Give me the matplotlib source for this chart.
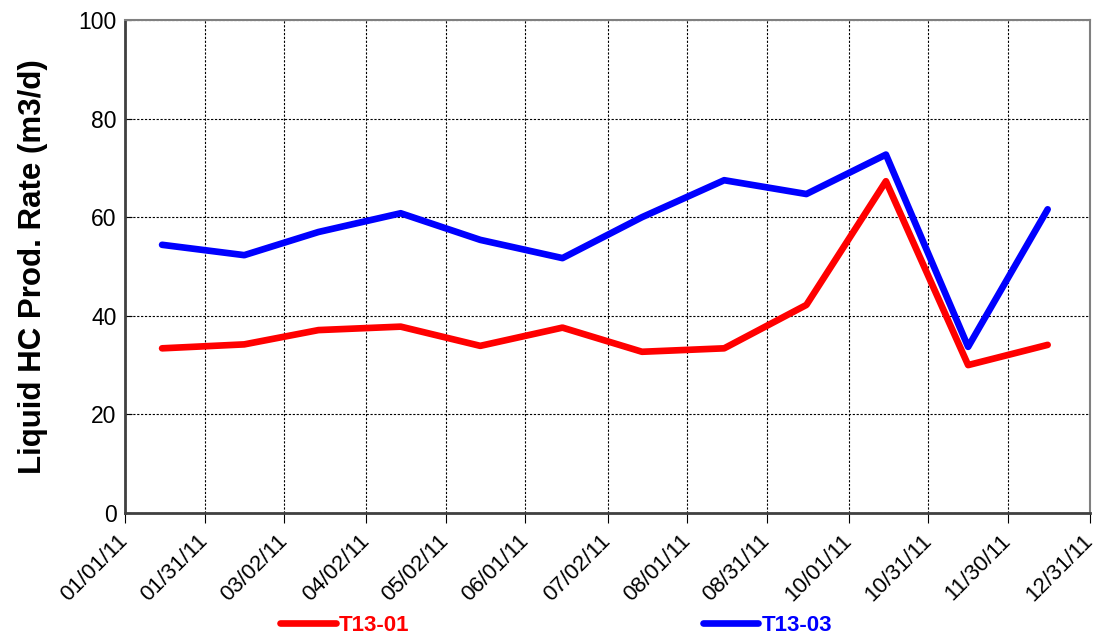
import numpy as np
import matplotlib
matplotlib.use("Agg")
import matplotlib.pyplot as plt
import matplotlib.dates as mdates
from datetime import date

# data
months = [date(2011, m, 15) for m in range(1, 13)]
t13_01 = [33.4, 34.2, 37.1, 37.8, 33.9, 37.6, 32.7, 33.4, 42.2, 67.3, 30.0, 34.1]
t13_03 = [54.4, 52.3, 57.0, 60.8, 55.4, 51.7, 60.0, 67.5, 64.7, 72.7, 33.7, 61.6]
tick_dates = [date(2011, 1, 1), date(2011, 1, 31), date(2011, 3, 2), date(2011, 4, 2),
              date(2011, 5, 2), date(2011, 6, 1), date(2011, 7, 2), date(2011, 8, 1),
              date(2011, 8, 31), date(2011, 10, 1), date(2011, 10, 31), date(2011, 11, 30),
              date(2011, 12, 31)]

plt.rcParams['font.family'] = ['Liberation Sans', 'DejaVu Sans']

fig = plt.figure(figsize=(10.99, 6.37), dpi=100)
ax = fig.add_axes([0.1137, 0.1947, 0.8782, 0.7739])

ax.plot(months, t13_01, color='#ff0000', lw=4.8, solid_capstyle='round', label='T13-01')
ax.plot(months, t13_03, color='#0000ff', lw=4.8, solid_capstyle='round', label='T13-03')

ax.set_xlim(date(2011, 1, 1), date(2011, 12, 31))
ax.set_ylim(0, 100)
ax.set_yticks(np.arange(0, 101, 20))
ax.set_xticks(tick_dates)
ax.xaxis.set_major_formatter(mdates.DateFormatter('%m/%d/%y'))
plt.setp(ax.get_xticklabels(), rotation=45, ha='right', va='center', rotation_mode='anchor')

ax.grid(True, color='black', lw=0.8, linestyle=(0, (2, 1.5)))
ax.set_axisbelow(True)

ax.tick_params(axis='y', direction='in', length=5, labelsize=16.5, pad=6)
ax.tick_params(axis='x', direction='out', length=7, labelsize=16, pad=11)

for s in ['left', 'bottom']:
    ax.spines[s].set_color('#404040')
    ax.spines[s].set_linewidth(2)
for s in ['top', 'right']:
    ax.spines[s].set_color('#808080')
    ax.spines[s].set_linewidth(1.5)

ax.set_ylabel('Liquid HC Prod. Rate (m3/d)', fontsize=22.5, fontweight='bold', labelpad=22)

leg = fig.legend(loc='center left', bbox_to_anchor=(0.2548, 0.018), ncol=2, frameon=False,
                 handlelength=2.5, handletextpad=0.15, columnspacing=13.2,
                 prop={'weight': 'bold', 'size': 16}, labelcolor='linecolor',
                 borderpad=0, borderaxespad=0)

fig.savefig('out.png', dpi=100)
